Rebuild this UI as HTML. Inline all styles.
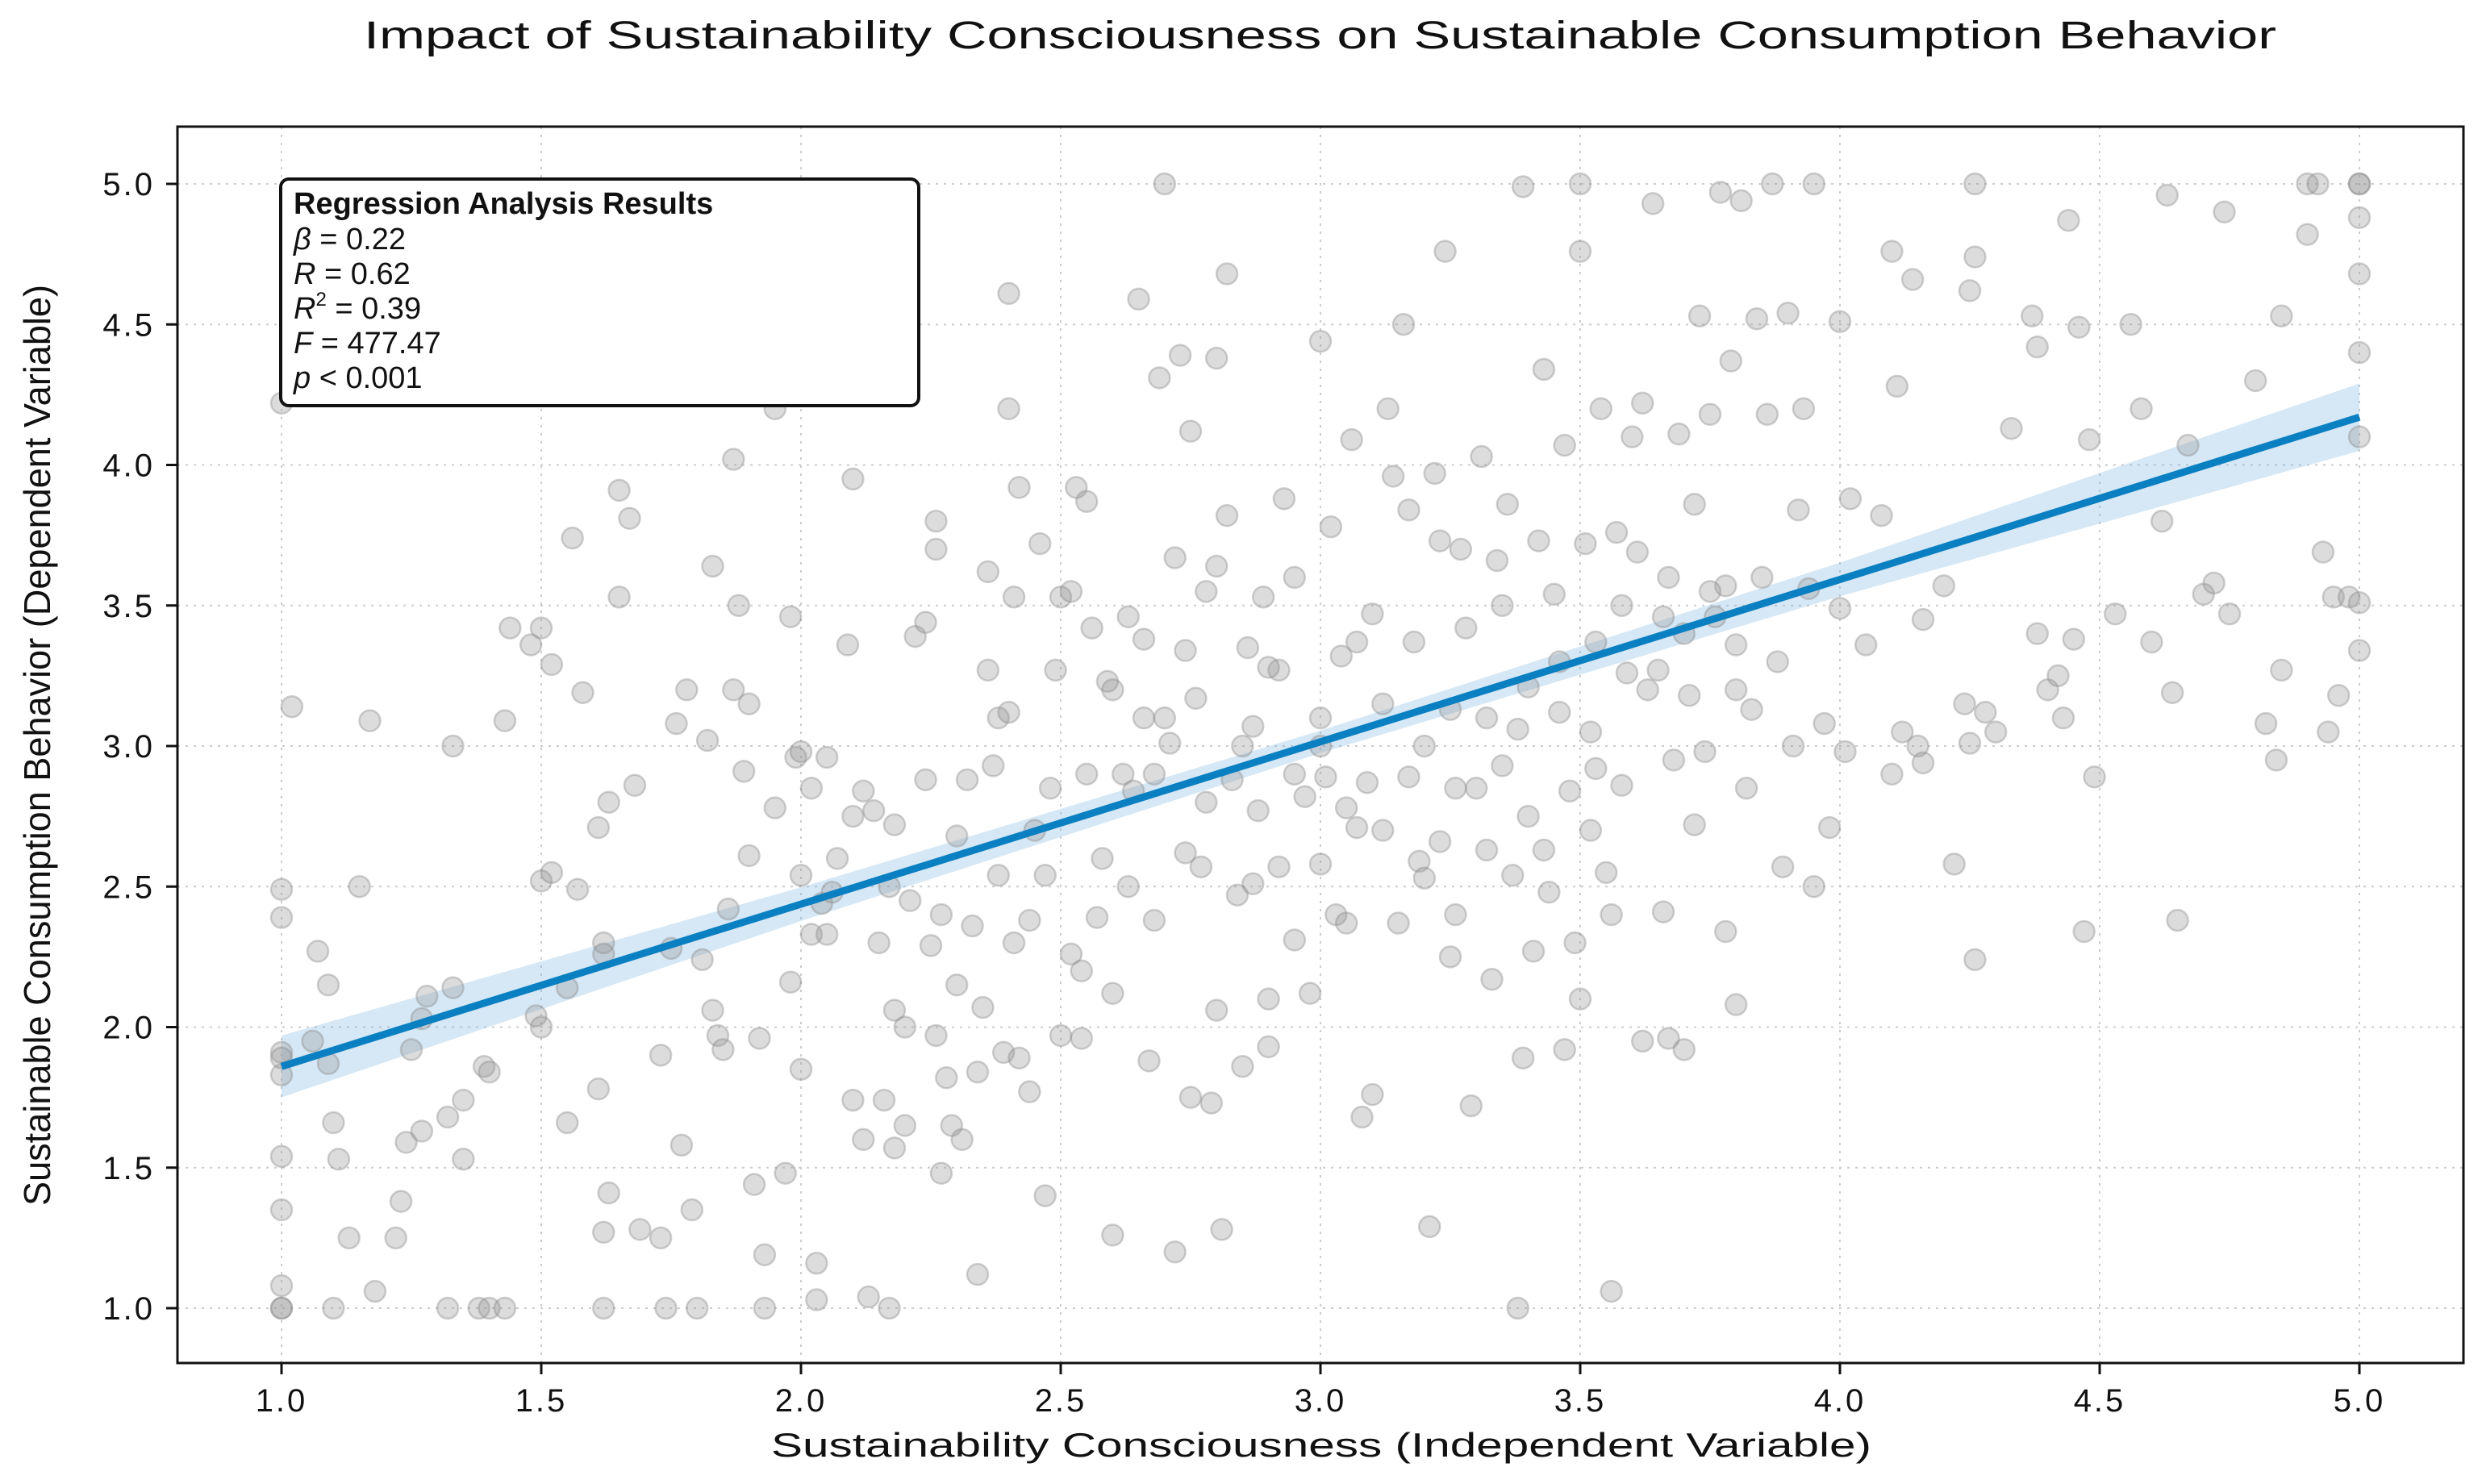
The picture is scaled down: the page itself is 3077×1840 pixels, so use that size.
<!DOCTYPE html>
<html><head><meta charset="utf-8"><style>
html,body{margin:0;padding:0;background:#fff;}
svg{display:block;font-family:"Liberation Sans",sans-serif;}
</style></head><body>
<svg id="chart" width="3077" height="1840" viewBox="0 0 3077 1840" xmlns="http://www.w3.org/2000/svg">
<rect width="3077" height="1840" fill="#fff"/>
<text x="451" y="60" font-size="48" textLength="2371" lengthAdjust="spacingAndGlyphs" fill="#111">Impact of Sustainability Consciousness on Sustainable Consumption Behavior</text>
<g id="grid"></g>
<g id="band"></g>
<g id="points"></g>
<g id="line"></g>
<rect x="220" y="157" width="2834" height="1533" fill="none" stroke="#111" stroke-width="3"/>
<g id="axes"></g>
<text x="956" y="1806" font-size="42" textLength="1364" lengthAdjust="spacingAndGlyphs" fill="#111">Sustainability Consciousness (Independent Variable)</text>
<text transform="translate(62,1495) rotate(-90)" font-size="46" textLength="1142" lengthAdjust="spacingAndGlyphs" fill="#111">Sustainable Consumption Behavior (Dependent Variable)</text>
<g>
<rect x="348" y="222" width="791" height="281" rx="10" fill="#fff" stroke="#111" stroke-width="4"/>
<text x="364" y="265" font-size="38" font-weight="bold" fill="#111">Regression Analysis Results</text>
<text x="364" y="309" font-size="38" fill="#111"><tspan font-style="italic">β</tspan> = 0.22</text>
<text x="364" y="352" font-size="38" fill="#111"><tspan font-style="italic">R</tspan> = 0.62</text>
<text x="364" y="395" font-size="38" fill="#111"><tspan font-style="italic">R</tspan><tspan font-size="24" dy="-16">2</tspan><tspan dy="16"> = 0.39</tspan></text>
<text x="364" y="438" font-size="38" fill="#111"><tspan font-style="italic">F</tspan> = 477.47</text>
<text x="364" y="481" font-size="38" fill="#111"><tspan font-style="italic">p</tspan> &lt; 0.001</text>
</g>
</svg>
<script>
const xTicks=[1.0,1.5,2.0,2.5,3.0,3.5,4.0,4.5,5.0];
const yTicks=[1.0,1.5,2.0,2.5,3.0,3.5,4.0,4.5,5.0];
const lineX=[1.0,5.0];
const lineY=[1.86,4.17];
const bandX=[1.0,2.0,3.0,4.0,5.0];
const bandHalf=[0.11,0.06,0.04,0.06,0.12];
const ptsX=[1.0,1.02,1.0,1.0,1.0,1.0,1.0,1.0,1.0,1.0,1.0,1.0,1.06,1.07,1.09,1.09,1.1,1.11,1.13,1.15,1.17,1.18,1.22,1.23,1.24,1.25,1.27,1.27,1.28,1.32,1.33,1.33,1.35,1.35,1.1,1.32,1.38,1.4,1.43,1.39,1.4,1.43,1.44,1.48,1.49,1.5,1.5,1.5,1.52,1.52,1.55,1.55,1.56,1.57,1.58,1.61,1.61,1.62,1.62,1.63,1.62,1.62,1.63,1.65,1.65,1.67,1.68,1.69,1.73,1.73,1.74,1.75,1.76,1.77,1.78,1.79,1.8,1.81,1.82,1.83,1.83,1.84,1.85,1.86,1.87,1.87,1.88,1.89,1.9,1.9,1.91,1.92,1.93,1.93,1.95,1.95,1.97,1.98,1.98,1.99,2.0,2.0,2.0,2.02,2.02,2.03,2.03,2.04,2.05,2.05,2.05,2.06,2.07,2.09,2.1,2.1,2.1,2.12,2.12,2.13,2.14,2.15,2.16,2.17,2.17,2.18,2.18,2.18,2.2,2.2,2.21,2.22,2.24,2.24,2.25,2.26,2.26,2.26,2.27,2.27,2.28,2.29,2.3,2.3,2.31,2.32,2.33,2.34,2.34,2.35,2.36,2.36,2.37,2.38,2.38,2.39,2.4,2.4,2.4,2.41,2.41,2.42,2.42,2.44,2.44,2.45,2.46,2.47,2.47,2.48,2.49,2.5,2.5,2.52,2.53,2.54,2.54,2.55,2.55,2.57,2.58,2.59,2.6,2.6,2.62,2.63,2.63,2.64,2.65,2.66,2.66,2.67,2.68,2.69,2.7,2.71,2.72,2.72,2.73,2.74,2.75,2.75,2.76,2.77,2.78,2.79,2.8,2.8,2.8,2.81,2.82,2.82,2.83,2.84,2.85,2.86,2.87,2.87,2.88,2.89,2.9,2.9,2.92,2.92,2.93,2.95,2.95,2.97,2.98,3.0,3.0,3.0,3.01,3.02,3.03,3.04,3.05,3.06,3.07,3.07,3.08,3.09,3.1,3.1,3.12,3.13,3.14,3.15,3.16,3.17,3.17,3.18,3.19,3.2,3.21,3.22,3.23,3.23,3.24,3.25,3.25,3.26,3.27,3.28,3.29,3.3,3.31,3.32,3.33,3.34,3.35,3.35,3.36,3.37,3.38,3.38,3.39,3.39,3.4,3.41,3.42,3.43,3.43,3.44,3.45,3.46,3.47,3.47,3.48,3.49,3.5,3.5,3.5,3.51,3.52,3.53,3.53,3.54,3.55,3.56,3.56,3.57,3.58,3.59,3.6,3.61,3.62,3.62,3.63,3.64,3.66,3.66,3.67,3.67,3.68,3.69,3.7,3.71,3.72,3.72,3.73,3.74,3.75,3.76,3.77,3.78,3.78,3.79,3.8,3.8,3.81,3.82,3.83,3.84,3.85,3.86,3.87,3.88,3.89,3.9,3.91,3.92,3.93,3.94,3.95,3.95,3.97,3.98,4.0,4.0,4.01,4.02,4.05,4.08,4.1,4.1,4.11,4.12,4.14,4.15,4.16,4.16,4.2,4.22,4.24,4.25,4.25,4.26,4.26,4.26,4.28,4.3,4.33,4.37,4.38,4.38,4.4,4.42,4.43,4.44,4.45,4.46,4.47,4.48,4.49,4.53,4.56,4.58,4.6,4.62,4.63,4.64,4.65,4.67,4.7,4.72,4.74,4.75,4.8,4.82,4.85,4.85,4.84,4.9,4.9,4.92,4.93,4.94,4.95,4.96,4.98,5.0,5.0,5.0,5.0,5.0,5.0,5.0,5.0,2.52,2.56,2.6,2.68,2.7,2.74,2.78,2.85,2.9,2.95,3.0,3.05,3.12,3.2,3.26,3.32,3.4,3.46,3.52,3.58,3.65,3.7,3.75,3.8];
const ptsY=[4.22,3.14,2.49,2.39,1.91,1.89,1.83,1.54,1.35,1.08,1.0,1.0,1.95,2.27,2.15,1.87,1.66,1.53,1.25,2.5,3.09,1.06,1.25,1.38,1.59,1.92,1.63,2.03,2.11,1.68,2.14,3.0,1.53,1.74,1.0,1.0,1.0,1.0,1.0,1.86,1.84,3.09,3.42,3.36,2.04,2.0,2.52,3.42,2.55,3.29,2.14,1.66,3.74,2.49,3.19,2.71,1.78,2.3,1.27,1.41,1.0,2.26,2.8,3.53,3.91,3.81,2.86,1.28,1.9,1.25,1.0,2.28,3.08,1.58,3.2,1.35,1.0,2.24,3.02,2.06,3.64,1.97,1.92,2.42,3.2,4.02,3.5,2.91,3.15,2.61,1.44,1.96,1.19,1.0,2.78,4.2,1.48,2.16,3.46,2.96,2.54,2.98,1.85,2.33,2.85,1.03,1.16,2.44,2.96,2.33,4.43,2.48,2.6,3.36,3.95,2.75,1.74,1.6,2.84,1.04,2.77,2.3,1.74,1.0,2.5,2.72,2.06,1.57,2.0,1.65,2.45,3.39,3.44,2.88,2.29,3.8,3.7,1.97,1.48,2.4,1.82,1.65,2.15,2.68,1.6,2.88,2.36,1.12,1.84,2.07,3.27,3.62,2.93,3.1,2.54,1.91,4.2,4.61,3.12,2.3,3.53,1.89,3.92,1.77,2.38,2.7,3.72,2.54,1.4,2.85,3.27,3.53,1.97,2.26,3.92,2.2,1.96,3.87,2.9,2.39,2.6,3.23,1.26,2.12,2.9,2.5,3.46,2.84,4.59,3.38,3.1,1.88,2.38,4.31,5.0,3.01,1.2,3.67,4.39,3.34,4.12,1.75,3.17,2.57,3.55,1.73,2.06,4.38,3.64,1.28,4.68,3.82,2.88,2.47,1.86,3.35,2.51,3.07,2.77,3.53,2.1,1.93,2.57,3.27,3.88,2.31,3.6,2.82,2.12,2.58,3.0,4.44,2.89,3.78,2.4,3.32,2.37,4.09,3.37,2.71,1.68,2.87,3.47,1.76,2.7,4.2,3.96,2.37,4.5,3.84,2.89,3.37,2.59,3.0,1.29,3.97,3.73,2.66,4.76,2.25,3.13,2.4,3.7,3.42,1.72,2.85,4.03,2.63,2.17,3.66,2.93,3.5,3.86,2.54,3.06,1.0,4.99,1.89,3.21,2.27,3.73,4.34,2.63,2.48,3.54,3.12,1.92,4.07,2.84,2.3,2.1,4.76,5.0,3.72,2.7,2.92,3.37,4.2,2.55,1.06,2.4,3.76,2.86,3.26,4.1,3.69,1.95,4.22,3.2,4.93,3.46,2.41,1.96,3.6,2.95,4.11,1.92,3.18,2.72,3.86,4.53,2.98,4.18,3.46,4.97,2.34,3.57,4.37,2.08,3.36,4.94,2.85,3.13,4.52,3.6,4.18,5.0,3.3,2.57,4.54,3.0,3.84,4.2,3.56,2.5,5.0,3.08,2.71,3.49,4.51,2.98,3.88,3.36,3.82,2.9,4.76,4.28,3.05,4.66,3.0,2.94,3.45,3.57,2.58,3.15,4.62,3.01,2.24,4.74,5.0,3.12,3.05,4.13,4.53,3.4,4.42,3.2,3.25,3.1,4.87,3.38,4.49,2.34,4.09,2.89,3.47,4.5,4.2,3.37,3.8,4.96,3.19,2.38,4.07,3.54,3.58,4.9,3.47,4.3,3.08,4.53,3.27,2.95,5.0,4.82,5.0,3.69,3.05,3.53,3.18,3.53,5.0,5.0,4.88,4.68,4.4,4.1,3.51,3.34,3.55,3.42,3.2,2.9,3.1,2.62,2.8,3.0,3.28,2.9,3.1,2.78,3.15,2.53,2.85,3.1,2.75,3.3,3.05,3.5,3.27,3.4,3.55,3.2];

const NS="http://www.w3.org/2000/svg";
const L=220,R=3054,T=157,B=1690;
function xs(v){return 349+(v-1)*644;}
function ys(v){return 1622-(v-1)*348.5;}
function mk(tag,attrs,parent){const e=document.createElementNS(NS,tag);for(const k in attrs)e.setAttribute(k,attrs[k]);parent.appendChild(e);return e;}
const grid=document.getElementById('grid'),axes=document.getElementById('axes');
xTicks.forEach(t=>{
  const g=mk('line',{x1:xs(t),x2:xs(t),y1:T,y2:B,stroke:'#ccc','stroke-width':2,'stroke-dasharray':'3,7'},grid);
  
  
  const tk=mk('line',{x1:xs(t),x2:xs(t),y1:B,y2:B+14,stroke:'#111','stroke-width':3},axes);
  
  
  const tx=mk('text',{x:xs(t),y:B+60,'font-size':40,'letter-spacing':3,'text-anchor':'middle',fill:'#111'},axes);
  tx.textContent=t.toFixed(1);
  
  
});
yTicks.forEach(t=>{
  const g=mk('line',{x1:L,x2:R,y1:ys(t),y2:ys(t),stroke:'#ccc','stroke-width':2,'stroke-dasharray':'3,7'},grid);
  
  
  const tk=mk('line',{x1:L-14,x2:L,y1:ys(t),y2:ys(t),stroke:'#111','stroke-width':3},axes);
  
  
  const tx=mk('text',{x:L-28,y:ys(t)+14,'font-size':40,'letter-spacing':3,'text-anchor':'end',fill:'#111'},axes);
  tx.textContent=t.toFixed(1);
  
  
});
const pg=document.getElementById('points');
for(let i=0;i<ptsX.length&&i<ptsY.length;i++){
  const c=mk('circle',{cx:xs(ptsX[i]),cy:ys(ptsY[i]),r:13,fill:'rgba(150,150,150,0.33)',stroke:'rgba(140,140,140,0.4)','stroke-width':2.5},pg);
  
  
}
function lineAt(x){return lineY[0]+(lineY[1]-lineY[0])*(x-lineX[0])/(lineX[1]-lineX[0]);}
let up=[],dn=[];
bandX.forEach((x,i)=>{up.push(xs(x)+','+ys(lineAt(x)+bandHalf[i]));dn.unshift(xs(x)+','+ys(lineAt(x)-bandHalf[i]));});
const band=mk('polygon',{points:up.concat(dn).join(' '),fill:'rgba(120,180,225,0.3)'},document.getElementById('band'));


const ln=mk('line',{x1:xs(lineX[0]),y1:ys(lineY[0]),x2:xs(lineX[1]),y2:ys(lineY[1]),stroke:'#0a7fc1','stroke-width':9,'stroke-linecap':'butt'},document.getElementById('line'));


</script>
</body></html>
